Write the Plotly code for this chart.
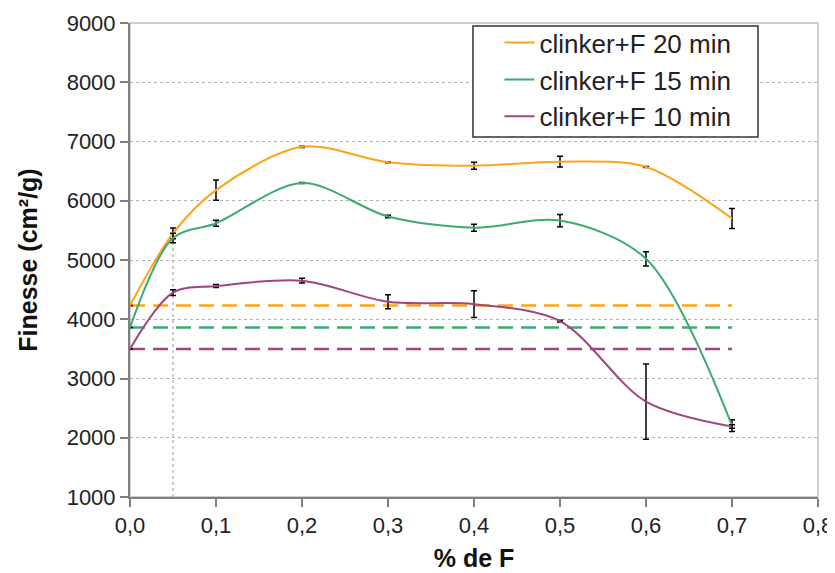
import plotly.graph_objects as go

# % de F
x_pct = [0.0, 0.05, 0.1, 0.2, 0.3, 0.4, 0.5, 0.6, 0.7]

# Finesse (cm2/g) per grinding time
fin_20 = [4230, 5450, 6180, 6910, 6650, 6590, 6660, 6570, 5700]
err_20 = [0, 90, 170, 10, 10, 60, 90, 10, 170]
fin_15 = [3860, 5370, 5620, 6300, 5735, 5545, 5665, 5020, 2205]
err_15 = [0, 80, 50, 10, 20, 60, 105, 120, 100]
fin_10 = [3500, 4450, 4560, 4650, 4295, 4255, 3970, 2610, 2190]
err_10 = [0, 50, 25, 40, 117, 225, 15, 636, 30]

# clinker alone (reference levels, dashed)
ref_x = [0.0, 0.7]
ref_20 = [4230, 4230]
ref_15 = [3860, 3860]
ref_10 = [3500, 3500]

names = ["clinker+F 20 min", "clinker+F 15 min", "clinker+F 10 min"]
colors = ["#FFA31A", "#3DAA72", "#A0457F"]

fig = go.Figure()

# dashed reference lines first so curves sit on top
for ref, col in zip([ref_20, ref_15, ref_10], colors):
    fig.add_trace(go.Scatter(
        x=ref_x, y=ref, mode="lines", showlegend=False, hoverinfo="skip",
        line=dict(color=col, width=2.5, dash="15px,8px")))

# dotted drop line at 5 %
fig.add_trace(go.Scatter(
    x=[0.05, 0.05], y=[1000, fin_15[1]], mode="lines", showlegend=False,
    hoverinfo="skip", line=dict(color="#999999", width=1, dash="dot")))

for ys, es, name, col in zip([fin_20, fin_15, fin_10], [err_20, err_15, err_10], names, colors):
    fig.add_trace(go.Scatter(
        x=x_pct, y=ys, name=name, mode="lines",
        line=dict(color=col, width=2, shape="spline", smoothing=0.9),
        error_y=dict(type="data", array=es, visible=True, color="black",
                     thickness=1.5, width=3)))

# page has an 8px body margin, so margins are shifted to compensate
fig.update_layout(
    width=835, height=573,
    margin=dict(l=122, r=25, t=11, b=84),
    paper_bgcolor="white", plot_bgcolor="white",
    separators=", ",
    font=dict(family="Arial, Liberation Sans, sans-serif", size=22, color="#222222"),
    xaxis=dict(
        range=[0, 0.8], dtick=0.1, tickformat=".1f", automargin=False,
        showgrid=False, zeroline=False,
        showline=True, linecolor="#808080", linewidth=2, mirror=False,
        ticks="outside", ticklen=8, tickcolor="#808080", tickwidth=1.5,
        title=dict(text="<b>% de F</b>", font=dict(size=25, color="#111111"), standoff=12),
    ),
    yaxis=dict(
        range=[1000, 9000], dtick=1000, automargin=False,
        showgrid=True, gridcolor="#B0B0B0", gridwidth=1, griddash="dot",
        zeroline=False,
        showline=True, linecolor="#808080", linewidth=2,
        ticks="outside", ticklen=8, tickcolor="#808080", tickwidth=1.5,
        title=dict(text="<b>Finesse (cm²/g)</b>", font=dict(size=25, color="#111111"), standoff=22),
    ),
    legend=dict(
        x=0.537, y=1.008, xanchor="left", yanchor="top",
        bgcolor="rgba(0,0,0,0)", borderwidth=0,
        font=dict(size=26, color="#222222"), tracegroupgap=0,
    ),
    shapes=[
        dict(type="rect", xref="paper", yref="paper", x0=0, y0=0, x1=1, y1=1,
             line=dict(color="#C0C0C0", width=1.5), layer="below"),
        dict(type="rect", xref="paper", yref="paper", x0=0.4985, y0=0.7594, x1=0.9128, y1=0.9937,
             line=dict(color="#333333", width=1.5), fillcolor="white", layer="above"),
    ],
)

fig.write_html("out.html")
